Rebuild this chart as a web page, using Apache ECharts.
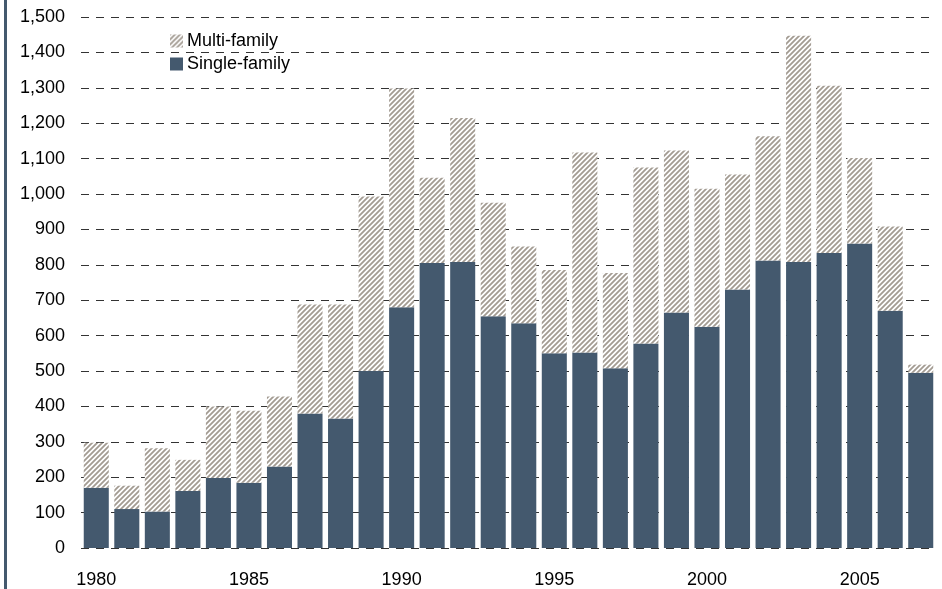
<!DOCTYPE html>
<html>
<head>
<meta charset="utf-8">
<script src="https://cdn.jsdelivr.net/npm/echarts@6/dist/echarts.min.js"></script>
<style>
  html, body { margin: 0; padding: 0; background: #fff; }
  #chart { width: 942px; height: 589px; }
</style>
</head>
<body>
<div id="chart"></div>
<script>
var years = [];
for (var y = 1980; y <= 2007; y++) years.push(String(y));

var singleFamily = [170, 110, 103, 161, 198, 184, 230, 380, 366, 500,
                    680, 805, 808, 655, 635, 550, 552, 508, 578, 665,
                    625, 730, 812, 808, 833, 860, 670, 495];
var multiFamily = [127, 66, 179, 88, 202, 204, 198, 308, 322, 493,
                   618, 241, 407, 320, 217, 235, 565, 269, 497, 458,
                   390, 325, 351, 639, 473, 242, 238, 23];

// hatch pattern for multi-family
var tile = document.createElement('canvas');
tile.width = 5;
tile.height = 5;
var ctx = tile.getContext('2d');
ctx.fillStyle = '#ffffff';
ctx.fillRect(0, 0, 5, 5);
ctx.strokeStyle = '#a39b92';
ctx.lineWidth = 1.8;
ctx.beginPath();
ctx.moveTo(-1, 6); ctx.lineTo(6, -1);
ctx.moveTo(-1, 1); ctx.lineTo(1, -1);
ctx.moveTo(4, 6); ctx.lineTo(6, 4);
ctx.stroke();

var chart = echarts.init(document.getElementById('chart'));

var option = {
  animation: false,
  textStyle: { fontFamily: 'Liberation Sans, Arial, sans-serif' },
  graphic: [
    { type: 'rect', shape: { x: 4, y: 0, width: 3, height: 589 }, style: { fill: '#44596e' } }
  ],
  legend: {
    orient: 'vertical',
    left: 165,
    top: 27,
    icon: 'rect',
    itemWidth: 13,
    itemHeight: 13,
    itemGap: 5,
    textStyle: { fontSize: 18, color: '#000', padding: [0, 0, 0, -1] },
    data: ['Multi-family', 'Single-family']
  },
  grid: { left: 81, right: 6, top: 17, bottom: 41 },
  xAxis: {
    type: 'category',
    data: years,
    axisLine: { show: false },
    axisTick: { show: false },
    axisLabel: {
      interval: 4,
      fontSize: 18,
      color: '#000',
      margin: 23
    }
  },
  yAxis: {
    type: 'value',
    min: 0,
    max: 1500,
    interval: 100,
    axisLine: { show: false },
    axisTick: { show: false },
    axisLabel: {
      fontSize: 18,
      color: '#000',
      margin: 16,
      formatter: function (v) { return v.toLocaleString('en-US'); }
    },
    splitLine: {
      lineStyle: { color: '#333', type: [8, 7], width: 1 }
    }
  },
  series: [
    {
      name: 'Single-family',
      type: 'bar',
      stack: 'total',
      barCategoryGap: '18%',
      itemStyle: { color: '#44596e' },
      data: singleFamily
    },
    {
      name: 'Multi-family',
      type: 'bar',
      stack: 'total',
      barCategoryGap: '18%',
      itemStyle: { color: { image: tile, repeat: 'repeat' } },
      data: multiFamily
    }
  ]
};

chart.setOption(option);
</script>
</body>
</html>
